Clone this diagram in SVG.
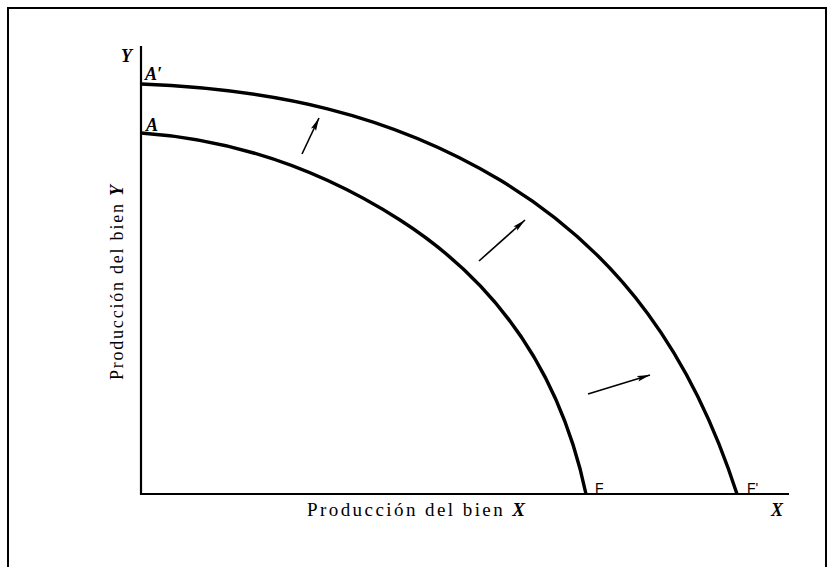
<svg xmlns="http://www.w3.org/2000/svg" width="834" height="567" viewBox="0 0 834 567">
  <style>
    .frame { fill: none; stroke: #000; stroke-width: 2; }
    .axis { fill: none; stroke: #000; stroke-width: 2.2; }
    .curve { fill: none; stroke: #000; stroke-width: 3.4; stroke-linecap: butt; }
    .arrow { fill: none; stroke: #000; stroke-width: 1.6; marker-end: url(#head); }
    .lbl { font-family: "Liberation Serif", "Times New Roman", serif; font-style: italic; font-weight: bold; fill: #000; }
    .axt { font-family: "Liberation Serif", "Times New Roman", serif; fill: #000; }
    .pt { font-family: "Liberation Sans", Arial, sans-serif; font-size: 14px; fill: #000; }
  </style>
  <defs>
    <marker id="head" markerUnits="userSpaceOnUse" markerWidth="14" markerHeight="8" refX="13" refY="4" orient="auto">
      <path d="M0,1.2 L13,4 L0,6.8 L2.5,4 Z" fill="#000"/>
    </marker>
  </defs>
  <rect width="834" height="567" fill="#fff"/>
  <path class="frame" d="M8,567 V8 H826 V567"/>

  <g id="axes">
    <line class="axis" x1="141" y1="46" x2="141" y2="495"/>
    <line class="axis" x1="140" y1="494" x2="789" y2="494"/>
    <text class="lbl" x="121" y="62" font-size="18">Y</text>
    <text class="lbl" x="771" y="516" font-size="18">X</text>
    <text class="axt" x="307" y="516" font-size="19" textLength="218" lengthAdjust="spacing">Producción del bien <tspan font-style="italic" font-weight="bold">X</tspan></text>
    <text class="axt" transform="translate(123,282.5) rotate(-90)" x="0" y="0" font-size="18" text-anchor="middle" textLength="195" lengthAdjust="spacing">Producción del bien <tspan font-style="italic" font-weight="bold">Y</tspan></text>
  </g>

  <g id="curve-AF">
    <path class="curve" d="M141,133 C236,139.6 320,168.8 400,220 C501,284.7 561.3,376.5 586,494"/>
    <text class="lbl" x="146" y="131" font-size="18">A</text>
    <text class="pt" x="595" y="493">F</text>
  </g>

  <g id="curve-A2F2">
    <path class="curve" d="M141,84 C271,89 388.6,113.2 500,180 C621.7,253 693.4,358.8 737,494"/>
    <text class="lbl" x="145" y="80" font-size="18">A′</text>
    <text class="pt" x="747" y="493">F'</text>
  </g>

  <g id="connectors">
    <line class="arrow" x1="302" y1="154" x2="319" y2="118"/>
    <line class="arrow" x1="479" y1="261" x2="525" y2="220"/>
    <line class="arrow" x1="588" y1="394" x2="650" y2="375"/>
  </g>
</svg>
